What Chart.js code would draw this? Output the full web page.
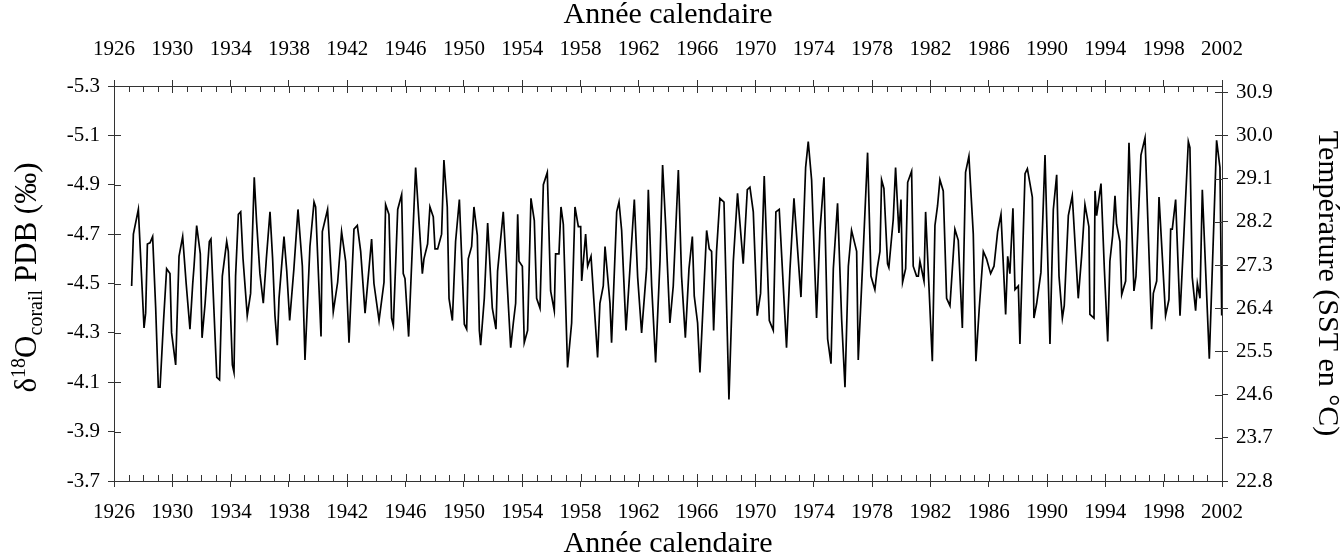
<!DOCTYPE html>
<html>
<head>
<meta charset="utf-8">
<script src="https://cdn.jsdelivr.net/npm/chart.js@4.4.1/dist/chart.umd.min.js"></script>
<style>
  html, body { margin: 0; padding: 0; background: #fff; }
  #wrap { width: 1342px; height: 559px; }
</style>
</head>
<body>
<div id="wrap"><canvas id="coralChart"></canvas></div>
<script>
// Sample dates (calendar year) and coral d18O values
const sampleYears = [
  1927.21, 1927.33, 1927.67, 1928.06, 1928.17, 1928.29, 1928.47, 1928.65, 1928.86, 1929.04,
  1929.16, 1929.40, 1929.61, 1929.84, 1929.95, 1930.23, 1930.46, 1930.71, 1930.95, 1931.21,
  1931.40, 1931.49, 1931.67, 1931.92, 1932.04, 1932.25, 1932.54, 1932.65, 1932.85, 1933.05,
  1933.24, 1933.43, 1933.73, 1933.84, 1934.12, 1934.23, 1934.34, 1934.53, 1934.69, 1934.85,
  1935.14, 1935.37, 1935.62, 1935.78, 1936.01, 1936.24, 1936.45, 1936.70, 1936.88, 1937.04,
  1937.20, 1937.32, 1937.66, 1937.85, 1938.05, 1938.34, 1938.62, 1938.92, 1939.10, 1939.44,
  1939.72, 1939.83, 1940.20, 1940.29, 1940.65, 1941.04, 1941.34, 1941.61, 1941.89, 1942.12,
  1942.46, 1942.69, 1942.92, 1943.22, 1943.67, 1943.83, 1944.18, 1944.52, 1944.63, 1944.86,
  1945.04, 1945.16, 1945.46, 1945.73, 1945.84, 1945.96, 1946.21, 1946.69, 1947.15, 1947.26,
  1947.51, 1947.67, 1947.90, 1948.02, 1948.20, 1948.47, 1948.63, 1948.86, 1948.98, 1949.21,
  1949.43, 1949.69, 1950.03, 1950.19, 1950.30, 1950.53, 1950.69, 1950.92, 1951.06, 1951.15,
  1951.40, 1951.63, 1951.95, 1952.20, 1952.31, 1952.70, 1953.21, 1953.39, 1953.55, 1953.69,
  1953.78, 1954.01, 1954.14, 1954.37, 1954.60, 1954.83, 1954.99, 1955.22, 1955.45, 1955.72,
  1955.95, 1956.20, 1956.29, 1956.52, 1956.66, 1956.82, 1957.11, 1957.39, 1957.62, 1957.85,
  1958.01, 1958.08, 1958.35, 1958.49, 1958.72, 1959.17, 1959.33, 1959.56, 1959.68, 1960.02,
  1960.13, 1960.48, 1960.64, 1960.82, 1961.12, 1961.39, 1961.69, 1961.92, 1962.19, 1962.53,
  1962.65, 1962.88, 1963.15, 1963.45, 1963.63, 1963.84, 1964.13, 1964.36, 1964.71, 1964.93,
  1965.19, 1965.44, 1965.67, 1965.80, 1966.03, 1966.19, 1966.65, 1966.83, 1966.99, 1967.13,
  1967.33, 1967.56, 1967.84, 1968.18, 1968.48, 1968.77, 1969.16, 1969.44, 1969.62, 1969.85,
  1970.12, 1970.35, 1970.60, 1970.95, 1971.22, 1971.40, 1971.63, 1972.13, 1972.36, 1972.64,
  1973.12, 1973.44, 1973.62, 1973.85, 1974.19, 1974.42, 1974.70, 1974.95, 1975.18, 1975.34,
  1975.63, 1975.91, 1976.14, 1976.37, 1976.59, 1976.94, 1977.05, 1977.39, 1977.69, 1977.92,
  1978.19, 1978.35, 1978.54, 1978.65, 1978.81, 1979.06, 1979.15, 1979.45, 1979.61, 1979.84,
  1979.98, 1980.09, 1980.30, 1980.44, 1980.71, 1980.82, 1981.05, 1981.17, 1981.28, 1981.56,
  1981.67, 1982.13, 1982.31, 1982.49, 1982.65, 1982.88, 1983.11, 1983.34, 1983.68, 1983.91,
  1984.19, 1984.41, 1984.64, 1984.94, 1985.12, 1985.35, 1985.63, 1985.85, 1986.13, 1986.36,
  1986.61, 1986.84, 1987.16, 1987.30, 1987.45, 1987.66, 1987.80, 1988.03, 1988.14, 1988.49,
  1988.65, 1988.99, 1989.10, 1989.29, 1989.58, 1989.86, 1990.20, 1990.43, 1990.66, 1990.82,
  1991.05, 1991.18, 1991.46, 1991.73, 1992.14, 1992.37, 1992.60, 1992.87, 1992.94, 1993.22,
  1993.29, 1993.40, 1993.70, 1993.93, 1994.16, 1994.31, 1994.50, 1994.66, 1994.77, 1995.00,
  1995.12, 1995.39, 1995.62, 1995.96, 1996.10, 1996.44, 1996.72, 1997.17, 1997.29, 1997.52,
  1997.68, 1998.13, 1998.36, 1998.48, 1998.59, 1998.82, 1999.12, 1999.69, 1999.80, 1999.96,
  2000.19, 2000.31, 2000.49, 2000.65, 2001.13, 2001.63, 2001.86, 2001.98
];

const d18O = [
  -4.49, -4.70, -4.80, -4.32, -4.38, -4.66, -4.665, -4.69, -4.40, -4.08,
  -4.08, -4.35, -4.56, -4.54, -4.30, -4.17, -4.61, -4.69, -4.50, -4.315,
  -4.50, -4.57, -4.735, -4.62, -4.28, -4.42, -4.67, -4.68, -4.40, -4.12,
  -4.11, -4.53, -4.67, -4.63, -4.17, -4.14, -4.53, -4.78, -4.79, -4.60,
  -4.37, -4.46, -4.93, -4.75, -4.54, -4.42, -4.60, -4.79, -4.60, -4.37,
  -4.25, -4.44, -4.69, -4.55, -4.35, -4.56, -4.80, -4.57, -4.19, -4.65,
  -4.83, -4.81, -4.285, -4.71, -4.80, -4.385, -4.505, -4.71, -4.59, -4.26,
  -4.72, -4.735, -4.63, -4.38, -4.68, -4.50, -4.35, -4.505, -4.82, -4.78,
  -4.36, -4.33, -4.80, -4.86, -4.54, -4.52, -4.285, -4.97, -4.54, -4.60,
  -4.66, -4.81, -4.77, -4.64, -4.64, -4.70, -5.00, -4.81, -4.44, -4.35,
  -4.67, -4.84, -4.335, -4.315, -4.60, -4.65, -4.81, -4.695, -4.31, -4.25,
  -4.44, -4.745, -4.40, -4.315, -4.55, -4.79, -4.24, -4.34, -4.42, -4.78,
  -4.59, -4.57, -4.26, -4.31, -4.845, -4.755, -4.44, -4.40, -4.90, -4.95,
  -4.47, -4.39, -4.62, -4.62, -4.81, -4.74, -4.16, -4.34, -4.81, -4.73,
  -4.73, -4.51, -4.70, -4.57, -4.61, -4.20, -4.42, -4.49, -4.65, -4.42,
  -4.26, -4.79, -4.83, -4.715, -4.31, -4.56, -4.84, -4.525, -4.30, -4.56,
  -4.88, -4.49, -4.18, -4.59, -4.98, -4.735, -4.34, -4.49, -4.96, -4.53,
  -4.28, -4.56, -4.69, -4.45, -4.34, -4.14, -4.715, -4.64, -4.63, -4.31,
  -4.63, -4.845, -4.83, -4.03, -4.59, -4.865, -4.58, -4.88, -4.89, -4.79,
  -4.37, -4.46, -4.935, -4.35, -4.31, -4.79, -4.80, -4.24, -4.55, -4.845,
  -4.445, -4.97, -5.075, -4.92, -4.36, -4.71, -4.93, -4.275, -4.175, -4.56,
  -4.825, -4.355, -4.08, -4.57, -4.715, -4.63, -4.19, -4.63, -5.03, -4.53,
  -4.475, -4.56, -4.63, -4.92, -4.885, -4.58, -4.565, -4.76, -4.97, -4.705,
  -4.84, -4.505, -4.56, -4.91, -4.955, -4.57, -4.53, -4.53, -4.59, -4.51,
  -4.79, -4.185, -4.735, -4.815, -4.92, -4.875, -4.44, -4.41, -4.72, -4.675,
  -4.32, -4.95, -5.015, -4.70, -4.185, -4.40, -4.63, -4.60, -4.54, -4.57,
  -4.71, -4.78, -4.375, -4.61, -4.54, -4.805, -4.475, -4.49, -4.255, -4.945,
  -4.965, -4.85, -4.36, -4.42, -4.545, -5.02, -4.255, -4.80, -4.94, -4.53,
  -4.36, -4.41, -4.775, -4.855, -4.44, -4.61, -4.82, -4.73, -4.375, -4.36,
  -4.875, -4.775, -4.905, -4.56, -4.265, -4.59, -4.695, -4.855, -4.74, -4.67,
  -4.455, -4.51, -5.07, -4.47, -4.53, -5.02, -5.09, -4.315, -4.46, -4.51,
  -4.85, -4.37, -4.435, -4.72, -4.72, -4.84, -4.37, -5.075, -5.05, -4.525,
  -4.39, -4.50, -4.44, -4.88, -4.195, -5.08, -4.97, -4.37
];

// Axis ticks
const yearTicks = [1926, 1930, 1934, 1938, 1942, 1946, 1950, 1954, 1958, 1962,
  1966, 1970, 1974, 1978, 1982, 1986, 1990, 1994, 1998, 2002];
const d18OTicks = [-5.3, -5.1, -4.9, -4.7, -4.5, -4.3, -4.1, -3.9, -3.7];
const sstTicks = [22.8, 23.7, 24.6, 25.5, 26.4, 27.3, 28.2, 29.1, 30.0, 30.9];
const sstRange = [22.8, 31.03];

const fontFamily = '"Liberation Serif", "Times New Roman", serif';
const tickSize = 21;
const titleSize = 30;
const axisColor = '#333';

const points = sampleYears.map((yr, i) => ({ x: yr, y: d18O[i] }));

function setTicks(values) {
    return (scale) => {
        scale.ticks = values.map((v) => ({ value: v }));
    };
}

// inward tick marks and the left axis title (sub/superscripts)
const frameDecor = {
    id: 'frameDecor',
    afterDraw(chart) {
        const { ctx, chartArea: a, scales } = chart;
        ctx.save();
        ctx.strokeStyle = axisColor;
        ctx.lineWidth = 1;
        ctx.beginPath();
        for (let yr = yearTicks[0]; yr <= yearTicks[yearTicks.length - 1]; yr++) {
            const px = Math.round(scales.x.getPixelForValue(yr)) + 0.5;
            const len = yearTicks.includes(yr) ? 7 : 6;
            ctx.moveTo(px, a.top);
            ctx.lineTo(px, a.top + len);
            ctx.moveTo(px, a.bottom);
            ctx.lineTo(px, a.bottom - len);
        }
        d18OTicks.forEach((v) => {
            const py = Math.round(scales.y.getPixelForValue(v)) + 0.5;
            ctx.moveTo(a.left, py);
            ctx.lineTo(a.left + 7, py);
        });
        sstTicks.forEach((v) => {
            const py = Math.round(scales.ySst.getPixelForValue(v)) + 0.5;
            ctx.moveTo(a.right, py);
            ctx.lineTo(a.right - 7, py);
        });
        ctx.stroke();

        // left title: δ18Ocorail PDB (‰)
        const big = titleSize + 1;
        const small = Math.round(big * 0.64);
        const parts = [
            { t: 'δ', size: big, dy: 0 },
            { t: '18', size: small, dy: -big * 0.36 },
            { t: 'O', size: big, dy: 0 },
            { t: 'corail', size: small, dy: big * 0.2 },
            { t: ' PDB (‰)', size: big, dy: 0 }
        ];
        let total = 0;
        parts.forEach((p) => {
            ctx.font = p.size + 'px ' + fontFamily;
            p.w = ctx.measureText(p.t).width;
            total += p.w;
        });
        ctx.translate(25, (a.top + a.bottom) / 2 - 6);
        ctx.rotate(-Math.PI / 2);
        ctx.fillStyle = '#000';
        ctx.textBaseline = 'alphabetic';
        let x = -total / 2;
        parts.forEach((p) => {
            ctx.font = p.size + 'px ' + fontFamily;
            ctx.fillText(p.t, x, big * 0.36 + p.dy);
            x += p.w;
        });
        ctx.restore();
    }
};

const tickFont = { family: fontFamily, size: tickSize };
const titleFont = { family: fontFamily, size: titleSize, lineHeight: 1.0 };

new Chart(document.getElementById('coralChart'), {
    type: 'line',
    data: {
        datasets: [
            {
                data: points,
                xAxisID: 'x',
                yAxisID: 'y',
                borderColor: '#000',
                borderWidth: 1.7,
                pointRadius: 0,
                tension: 0,
                fill: false
            }
        ]
    },
    options: {
        responsive: true,
        maintainAspectRatio: false,
        animation: false,
        layout: { padding: 0 },
        plugins: {
            legend: { display: false },
            tooltip: { enabled: false }
        },
        scales: {
            x: {
                type: 'linear',
                position: 'bottom',
                min: 1926,
                max: 2002,
                afterBuildTicks: setTicks(yearTicks),
                afterFit: (scale) => { scale.height = 78; },
                ticks: { font: tickFont, color: '#000', padding: 13, maxRotation: 0, autoSkip: false,
                    callback: (v) => String(v) },
                grid: { display: true, drawOnChartArea: false, tickLength: 6, color: axisColor },
                border: { display: true, color: axisColor, width: 1 },
                title: { display: true, text: 'Année calendaire', font: titleFont, color: '#000',
                    padding: { top: 0, bottom: 0 } }
            },
            xTop: {
                type: 'linear',
                position: 'top',
                min: 1926,
                max: 2002,
                afterBuildTicks: setTicks(yearTicks),
                afterFit: (scale) => { scale.height = 86; },
                ticks: { font: tickFont, color: '#000', padding: 18, maxRotation: 0, autoSkip: false,
                    callback: (v) => String(v) },
                grid: { display: true, drawOnChartArea: false, tickLength: 6, color: axisColor },
                border: { display: true, color: axisColor, width: 1 },
                title: { display: true, text: 'Année calendaire', font: titleFont, color: '#000',
                    padding: { top: 0, bottom: 0 } }
            },
            y: {
                type: 'linear',
                position: 'left',
                reverse: true,
                min: -5.3,
                max: -3.7,
                afterBuildTicks: setTicks(d18OTicks),
                afterFit: (scale) => { scale.width = 114; },
                ticks: { font: tickFont, color: '#000', padding: 8,
                    callback: (v) => v.toFixed(1) },
                grid: { display: true, drawOnChartArea: false, tickLength: 6, color: axisColor },
                border: { display: true, color: axisColor, width: 1 }
            },
            ySst: {
                type: 'linear',
                position: 'right',
                display: true,
                min: sstRange[0],
                max: sstRange[1],
                afterBuildTicks: setTicks(sstTicks),
                afterFit: (scale) => { scale.width = 120; },
                ticks: { font: tickFont, color: '#000', padding: 8,
                    callback: (v) => v.toFixed(1) },
                grid: { display: true, drawOnChartArea: false, tickLength: 6, color: axisColor },
                border: { display: true, color: axisColor, width: 1 },
                title: { display: true, text: 'Température (SST en °C)', font: titleFont, color: '#000',
                    padding: { top: 0, bottom: 4 } }
            }
        }
    },
    plugins: [frameDecor]
});
</script>
</body>
</html>
